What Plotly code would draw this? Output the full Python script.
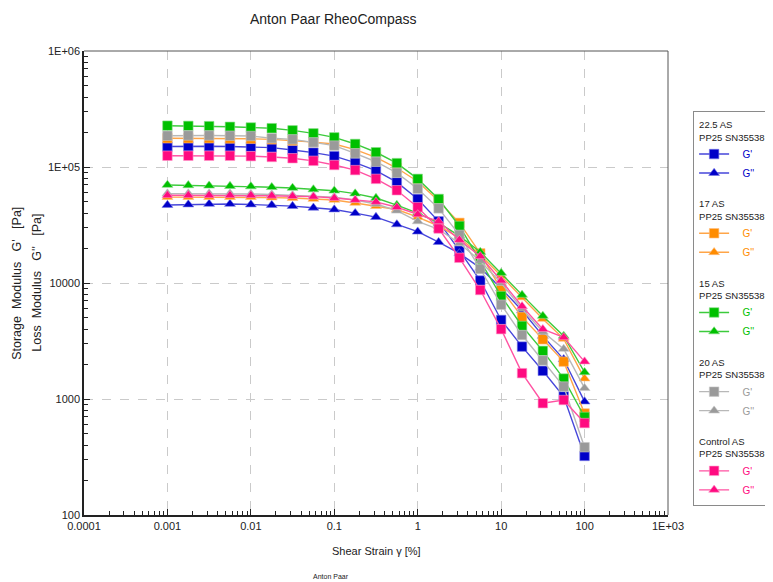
import plotly.graph_objects as go

# ---------------- data ----------------
strain = [0.001, 0.00178, 0.00316, 0.00562, 0.01, 0.0178, 0.0316, 0.0562, 0.1, 0.178, 0.316,
          0.562, 1, 1.78, 3.16, 5.62, 10, 17.8, 31.6, 56.2, 100]

as225_Gp = [150000, 151000, 151000, 150000, 149000, 147000, 140000, 133000, 124000, 109000, 93000,
            74000, 53000, 34000, 19000, 10500, 4800, 2830, 1750, 1050, 323]
as225_Gpp = [47000, 47500, 48000, 48000, 47500, 47000, 46000, 44500, 43000, 40000, 37000,
             32000, 27700, 22500, 18000, 13500, 9000, 5800, 3500, 2200, 950]

as17_Gp = [177000, 177000, 177000, 176000, 175000, 173000, 169000, 164000, 158000, 141000, 121000,
           98000, 75000, 51000, 33000, 18000, 8800, 5100, 3270, 2100, 750]
as17_Gpp = [55000, 55000, 55000, 55000, 55000, 54500, 54000, 53000, 52000, 49000, 46000,
            43000, 37000, 31000, 24500, 17500, 11500, 7500, 4900, 3300, 1500]

as15_Gp = [227000, 226000, 225000, 222000, 219000, 216000, 207000, 195000, 180000, 158000, 134000,
           108000, 79000, 53000, 31000, 15500, 7700, 4260, 2600, 1500, 700]
as15_Gpp = [70000, 69500, 69000, 68500, 68000, 67000, 66000, 64000, 62500, 59000, 54000,
            47000, 40000, 33000, 25500, 18500, 12200, 7900, 5200, 3500, 1700]

as20_Gp = [186000, 187000, 187000, 186000, 185000, 177000, 173000, 163000, 153000, 131000, 111000,
           89000, 65000, 44000, 26000, 13200, 6500, 3560, 2150, 1280, 384]
as20_Gpp = [59000, 59000, 59000, 59000, 58500, 58000, 57000, 56000, 55000, 52000, 48000,
            42000, 34000, 29000, 22000, 15500, 10000, 6000, 3800, 2700, 1240]

ctrl_Gp = [125000, 125000, 125000, 125000, 124000, 122000, 119000, 113000, 104000, 94000, 79000,
           63000, 45000, 29500, 16500, 8700, 4000, 1670, 920, 980, 620]
ctrl_Gpp = [57000, 57000, 57000, 57000, 57000, 56500, 56000, 55500, 54000, 52000, 50000,
            45000, 39000, 34000, 23500, 17000, 10500, 6300, 4000, 3400, 2100]

groups = ["22.5 AS", "17 AS", "15 AS", "20 AS", "Control AS"]
device = "PP25 SN35538"
series_Gp = [as225_Gp, as17_Gp, as15_Gp, as20_Gp, ctrl_Gp]
series_Gpp = [as225_Gpp, as17_Gpp, as15_Gpp, as20_Gpp, ctrl_Gpp]

x_tickvals = [1e-4, 1e-3, 1e-2, 1e-1, 1, 10, 100, 1000]
x_ticktext = ["0.0001", "0.001", "0.01", "0.1", "1", "10", "100", "1E+03"]
y_tickvals = [100, 1000, 10000, 100000, 1000000]
y_ticktext = ["100", "1000", "10000", "1E+05", "1E+06"]

# ---------------- style ----------------
marker_colors = ["#0000C8", "#FF8C00", "#00C000", "#9A9A9A", "#FF0A80"]
line_colors = ["#4646DA", "#FFA548", "#3CCB3C", "#B8B8B8", "#FF52A2"]
halo_colors = ["rgba(120,120,230,0.6)", "rgba(255,190,130,0.6)", "rgba(130,220,130,0.6)",
               "rgba(200,200,200,0.6)", "rgba(255,150,200,0.6)"]
FONT = "Liberation Sans Narrow, Liberation Sans, Arial, sans-serif"
TFONT = "Liberation Sans, Arial, sans-serif"

fig = go.Figure()
NB = "\u00a0"
for i, g in enumerate(groups):
    for kind, vals, sym in (("G'", series_Gp[i], "square"), ("G''", series_Gpp[i], "triangle-up")):
        fig.add_trace(go.Scatter(
            x=strain, y=vals, mode="lines+markers",
            name=NB * 3 + f"<span style='color:{marker_colors[i]}'>{kind}</span>",
            legendgroup=g,
            legendgrouptitle=dict(text=f"{g}<br>{device}",
                                  font=dict(size=9.5, color="#222", family=FONT)) if kind == "G'" else None,
            line=dict(color=line_colors[i], width=1.4),
            marker=dict(symbol=sym, size=9.5, color=marker_colors[i],
                        line=dict(color=halo_colors[i], width=1)),
        ))

minor_x = [m * 10 ** e for e in range(-4, 3) for m in range(2, 10)]
minor_y = [m * 10 ** e for e in range(2, 6) for m in range(2, 10)]

fig.update_xaxes(
    type="log", range=[-4, 3], tickmode="array", tickvals=x_tickvals, ticktext=x_ticktext,
    ticks="inside", ticklen=6, tickcolor="#222", showline=True, linecolor="#222", linewidth=1.5,
    showgrid=True, gridcolor="#CACACA", griddash="dash", gridwidth=1, zeroline=False,
    tickfont=dict(size=11, color="#222", family=FONT),
    minor=dict(tickvals=minor_x, ticks="inside", ticklen=4, tickcolor="#222", showgrid=False),
)
fig.update_yaxes(
    type="log", range=[2, 6], tickmode="array", tickvals=y_tickvals, ticktext=y_ticktext,
    ticks="inside", ticklen=6, tickcolor="#222", showline=True, linecolor="#222", linewidth=1.5,
    showgrid=True, gridcolor="#CACACA", griddash="dash", gridwidth=1, zeroline=False,
    tickfont=dict(size=11, color="#222", family=FONT),
    minor=dict(tickvals=minor_y, ticks="inside", ticklen=4, tickcolor="#222", showgrid=False),
)

# the page adds an 8 px body margin, so the figure is 8 px smaller and offset
fig.update_layout(
    width=765, height=574,
    margin=dict(l=76, r=105, t=43, b=67, autoexpand=False),
    paper_bgcolor="white", plot_bgcolor="white",
    font=dict(family=FONT, size=11, color="#222"),
    showlegend=True,
    legend=dict(x=1.043, xanchor="left", y=0.871, yanchor="top",
                bordercolor="#8A8A8A", borderwidth=1, bgcolor="white",
                font=dict(size=10, family=FONT), tracegroupgap=13.5, itemwidth=30),
    shapes=[
        dict(type="line", xref="paper", yref="paper", x0=0, x1=1, y0=1, y1=1,
             line=dict(color="#555", width=1)),
        dict(type="line", xref="paper", yref="paper", x0=1, x1=1, y0=0, y1=1,
             line=dict(color="#555", width=1)),
    ],
    annotations=[
        dict(text="Anton Paar RheoCompass", xref="paper", yref="paper", x=0.428, y=1.068,
             xanchor="center", yanchor="middle", showarrow=False,
             font=dict(size=14, family=TFONT, color="#222")),
        dict(text="Shear Strain \u03b3 [%]", xref="paper", yref="paper", x=0.5, y=-0.078,
             xanchor="center", yanchor="middle", showarrow=False,
             font=dict(size=11, family=FONT, color="#222")),
        dict(text="Anton Paar", xref="paper", yref="paper", x=0.423, y=-0.132,
             xanchor="center", yanchor="middle", showarrow=False,
             font=dict(size=7, family=FONT, color="#222")),
        dict(text="Storage  Modulus   G'   [Pa]", xref="paper", yref="paper", x=-0.115, y=0.5,
             xanchor="center", yanchor="middle", textangle=-90, showarrow=False,
             font=dict(size=12.5, family=TFONT, color="#222")),
        dict(text="Loss  Modulus   G''   [Pa]", xref="paper", yref="paper", x=-0.081, y=0.5,
             xanchor="center", yanchor="middle", textangle=-90, showarrow=False,
             font=dict(size=12.5, family=TFONT, color="#222")),
    ],
)

fig.write_html("out.html")
